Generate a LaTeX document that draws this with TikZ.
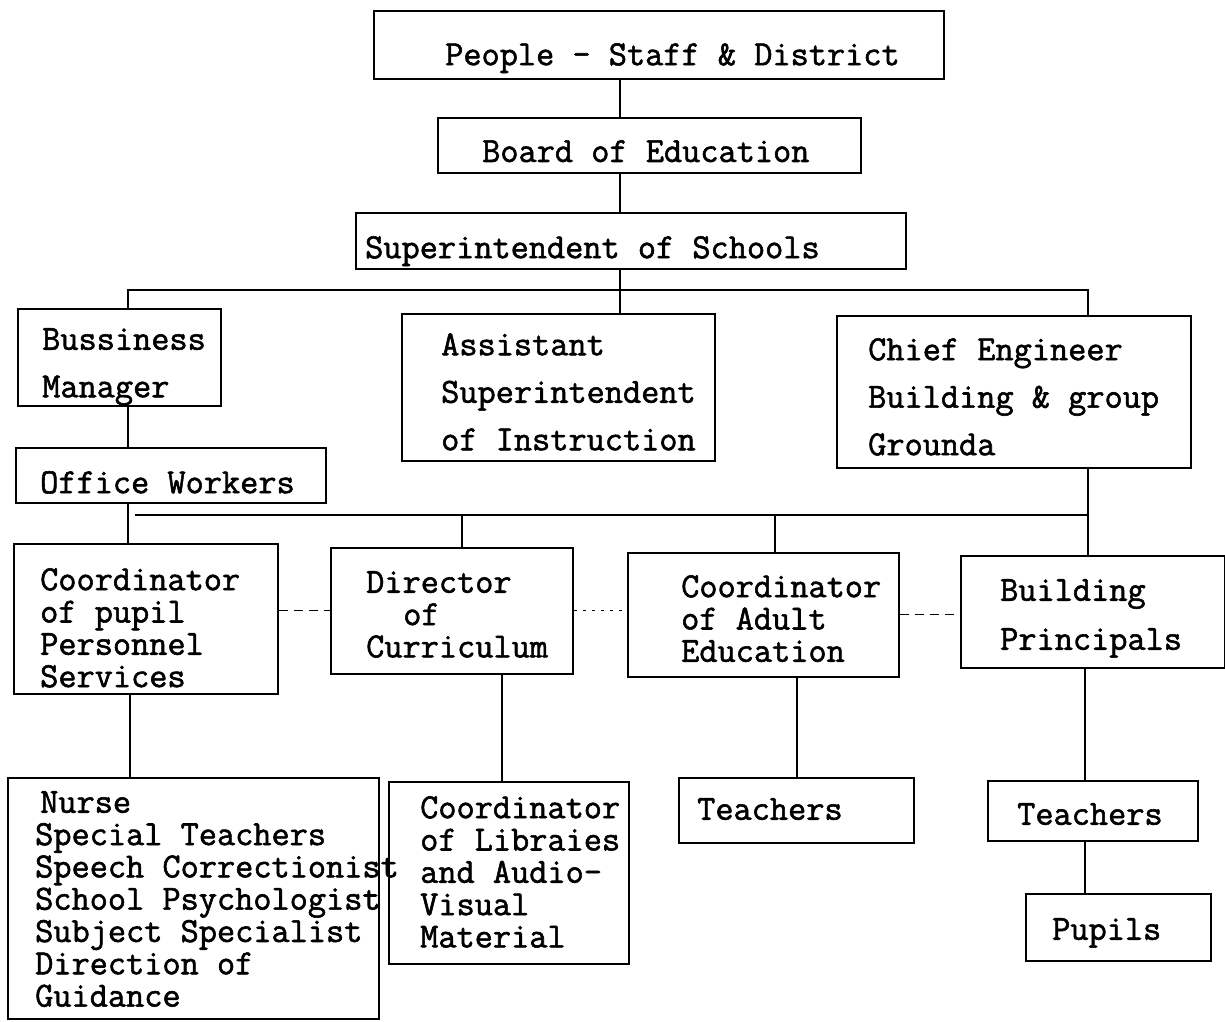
\documentclass[tikz,border=0pt]{standalone}
\usepackage{fontspec}
\newfontfamily\tw[FakeBold=1.6]{Latin Modern Mono}
\begin{document}
\begin{tikzpicture}[x=1pt,y=-1pt,
  box/.style={draw, line width=1.5pt, inner sep=0pt, anchor=north west},
  txt/.style={anchor=north west, inner sep=0pt, align=left, font=\tw\fontsize{35.3}{32.3}\selectfont},
  wide/.style={font=\tw\fontsize{35.3}{47.5}\selectfont},
  link/.style={line width=1.3pt},
  side/.style={line width=1.3pt, dash pattern=on 9pt off 6pt},
  dots/.style={line width=1.3pt, dash pattern=on 3pt off 6pt}]
\useasboundingbox (0,0) rectangle (1225,1021);
% boxes
\node[box, minimum width=570pt, minimum height=68pt]  (people) at (373,10)  {};
\node[box, minimum width=423pt, minimum height=55pt]  (board)  at (437,117) {};
\node[box, minimum width=550pt, minimum height=56pt]  (supt)   at (355,212) {};
\node[box, minimum width=203pt, minimum height=97pt]  (bm)     at (17,308)  {};
\node[box, minimum width=313pt, minimum height=147pt] (asst)   at (401,313) {};
\node[box, minimum width=354pt, minimum height=152pt] (chief)  at (836,315) {};
\node[box, minimum width=310pt, minimum height=55pt]  (ow)     at (15,447)  {};
\node[box, minimum width=264pt, minimum height=150pt] (cpp)    at (13,543)  {};
\node[box, minimum width=242pt, minimum height=126pt] (dc)     at (330,547) {};
\node[box, minimum width=271pt, minimum height=124pt] (ca)     at (627,552) {};
\node[box, minimum width=264pt, minimum height=112pt] (bp)     at (960,555) {};
\node[box, minimum width=371pt, minimum height=241pt] (nurse)  at (7,777)   {};
\node[box, minimum width=240pt, minimum height=182pt] (lib)    at (388,781) {};
\node[box, minimum width=235pt, minimum height=65pt]  (tone)   at (678,777) {};
\node[box, minimum width=210pt, minimum height=60pt]  (ttwo)   at (987,780) {};
\node[box, minimum width=185pt, minimum height=67pt]  (pupils) at (1025,893) {};
% texts
\node[txt] (peopleT) at (445,43)  {People - Staff \& District};
\node[txt] (boardT)  at (482,140) {Board of Education};
\node[txt] (suptT)   at (365,236) {Superintendent of Schools};
\node[txt, wide] (bmT)    at (42,328)  {Bussiness\\Manager};
\node[txt, wide] (asstT)  at (441,333) {Assistant\\Superintendent\\of Instruction};
\node[txt, wide] (chiefT) at (868,338) {Chief Engineer\\Building \& group\\Grounda};
\node[txt] (owT)     at (40,471)  {Office Workers};
\node[txt] (cppT)    at (40,568)  {Coordinator\\of pupil\\Personnel\\Services};
\node[txt] (dcT)     at (366,571) {Director\\\hspace*{1.05em}of\\Curriculum};
\node[txt] (caT)     at (681,575) {Coordinator\\of Adult\\Education};
\node[txt, font=\tw\fontsize{35.3}{49}\selectfont] (bpT) at (1000,579) {Building\\Principals};
\node[txt] (nurseT)  at (35,791)  {\hspace*{5pt}Nurse\\Special Teachers\\Speech Correctionist\\School Psychologist\\Subject Specialist\\Direction of\\Guidance};
\node[txt] (libT)    at (420,796) {Coordinator\\of Libraies\\and Audio-\\Visual\\Material};
\node[txt] (toneT)   at (697,798) {Teachers};
\node[txt] (ttwoT)   at (1017,803) {Teachers};
\node[txt] (pupilsT) at (1052,918) {Pupils};
% helper coordinates
\coordinate (vtop) at (620,0);
\coordinate (b1l) at (128,290);
\coordinate (b1r) at (1088,290);
\coordinate (b2l) at (135,515);
\coordinate (b2r) at (1088,515);
\coordinate (vdc) at (462,515);
\coordinate (vca) at (775,515);
\coordinate (vn) at (130,0);
\coordinate (vl) at (502,0);
\coordinate (vt) at (797,0);
\coordinate (vp) at (1085,0);
% connectors
\draw[link] (people.south -| vtop) -- (board.north -| vtop);
\draw[link] (board.south -| vtop) -- (supt.north -| vtop);
\draw[link] (supt.south -| vtop) -- (asst.north -| vtop);
\draw[link] (bm.north -| b1l) -- (b1l) -- (b1r) -- (chief.north -| b1r);
\draw[link] (bm.south -| b1l) -- (ow.north -| b1l);
\draw[link] (ow.south -| b1l) -- (cpp.north -| b1l);
\draw[link] (b2l) -- (b2r);
\draw[link] (chief.south -| b2r) -- (bp.north -| b2r);
\draw[link] (vdc) -- (dc.north -| vdc);
\draw[link] (vca) -- (ca.north -| vca);
\draw[side] (cpp.east |- dc.west) -- (dc.west);
\draw[dots] (dc.east) -- (dc.east -| ca.west);
\draw[side] (ca.east) -- (ca.east -| bp.west);
\draw[link] (cpp.south -| vn) -- (nurse.north -| vn);
\draw[link] (dc.south -| vl) -- (lib.north -| vl);
\draw[link] (ca.south -| vt) -- (tone.north -| vt);
\draw[link] (bp.south -| vp) -- (ttwo.north -| vp);
\draw[link] (ttwo.south -| vp) -- (pupils.north -| vp);
\end{tikzpicture}
\end{document}
